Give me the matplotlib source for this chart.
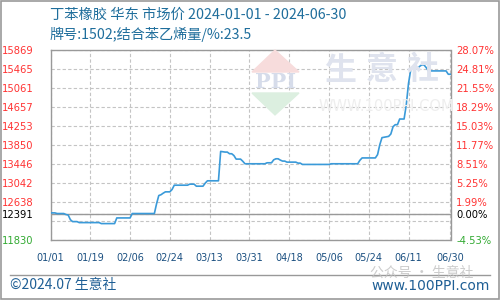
import matplotlib
matplotlib.use("Agg")
import matplotlib.pyplot as plt
import matplotlib.patches as mpatches
import pandas as pd

plt.rcParams['font.family'] = ['Noto Sans CJK SC', 'DejaVu Sans']

title1 = "丁苯橡胶 华东 市场价 2024-01-01 - 2024-06-30"
title2 = "牌号:1502;结合苯乙烯量/%:23.5"

dates = ["2024-01-01", "2024-01-03", "2024-01-04", "2024-01-07", "2024-01-08", "2024-01-09",
         "2024-01-10", "2024-01-11", "2024-01-13", "2024-01-14", "2024-01-23", "2024-01-24",
         "2024-01-30", "2024-01-31", "2024-02-06", "2024-02-07", "2024-02-17", "2024-02-18",
         "2024-02-19", "2024-02-20", "2024-02-21", "2024-02-22", "2024-02-24", "2024-02-25",
         "2024-02-26", "2024-03-03", "2024-03-04", "2024-03-06", "2024-03-07", "2024-03-10",
         "2024-03-11", "2024-03-12", "2024-03-17", "2024-03-18", "2024-03-20", "2024-03-21",
         "2024-03-22", "2024-03-23", "2024-03-24", "2024-03-25", "2024-03-27", "2024-03-28",
         "2024-03-29", "2024-04-07", "2024-04-08", "2024-04-10", "2024-04-11", "2024-04-12",
         "2024-04-13", "2024-04-14", "2024-04-15", "2024-04-16", "2024-04-17", "2024-04-21",
         "2024-04-22", "2024-04-23", "2024-04-24", "2024-05-06", "2024-05-07", "2024-05-19",
         "2024-05-20", "2024-05-21", "2024-05-27", "2024-05-28", "2024-05-29", "2024-05-30",
         "2024-06-02", "2024-06-03", "2024-06-04", "2024-06-05", "2024-06-06", "2024-06-07",
         "2024-06-09", "2024-06-10", "2024-06-11", "2024-06-12", "2024-06-13", "2024-06-15",
         "2024-06-16", "2024-06-17", "2024-06-18", "2024-06-19", "2024-06-20", "2024-06-28",
         "2024-06-29", "2024-06-30"]
prices = [12405, 12405, 12391, 12391, 12370, 12360,
          12260, 12220, 12220, 12199, 12199, 12178,
          12178, 12298, 12298, 12391, 12391, 12600,
          12773, 12790, 12823, 12851, 12851, 12900,
          12992, 12992, 13014, 13014, 12971, 12971,
          13035, 13085, 13085, 13708, 13694, 13694,
          13659, 13659, 13620, 13545, 13545, 13500,
          13446, 13446, 13467, 13467, 13530, 13552,
          13552, 13524, 13503, 13503, 13481, 13481,
          13460, 13460, 13432, 13432, 13446, 13446,
          13520, 13570, 13570, 13640, 13850, 14000,
          14027, 14077, 14232, 14275, 14275, 14395,
          14395, 14700, 15150, 15440, 15465, 15465,
          15510, 15543, 15543, 15486, 15415, 15415,
          15344, 15344]

base = 12391
ytick_vals = [11830, 12234, 12391, 12638, 13042, 13446, 13850, 14253, 14657, 15061, 15465, 15869]
xtick_dates = ["2024-01-01", "2024-01-19", "2024-02-06", "2024-02-24", "2024-03-13", "2024-03-31",
               "2024-04-18", "2024-05-06", "2024-05-24", "2024-06-11", "2024-06-30"]
xtick_labels = ["01/01", "01/19", "02/06", "02/24", "03/13", "03/31",
                "04/18", "05/06", "05/24", "06/11", "06/30"]

start = pd.Timestamp("2024-01-01")
xd = [(pd.Timestamp(d) - start).days for d in dates]
xt = [(pd.Timestamp(d) - start).days for d in xtick_dates]

fig = plt.figure(figsize=(5, 3), dpi=100)
fig.patch.set_facecolor("white")

ax = fig.add_axes([0.101, 0.2, 0.8, 0.635])
ax.set_xlim(0, 181)
ax.set_ylim(11830, 15869)

# watermark
fig.patches.append(mpatches.Polygon([[0.504, 0.76], [0.55, 0.833], [0.598, 0.76]], closed=True,
                                    transform=fig.transFigure, color="#f7dcdc", zorder=0))
fig.patches.append(mpatches.Polygon([[0.504, 0.69], [0.55, 0.617], [0.598, 0.69]], closed=True,
                                    transform=fig.transFigure, color="#dcefe0", zorder=0))
fig.text(0.551, 0.725, "PPI", ha="center", va="center", fontsize=15, fontweight="bold",
         color="#d6dcea", family=["DejaVu Serif"], zorder=0)
for i, ch in enumerate(["生", "意", "社"]):
    fig.text(0.68 + i * 0.083, 0.765, ch, ha="center", va="center", fontsize=23,
             fontweight="bold", color="#dfe3ee", zorder=0)
fig.text(0.773, 0.645, "WWW.100PPI.COM", ha="center", va="center", fontsize=10.5,
         color="#eeeeee", family=["DejaVu Sans"], zorder=0)
ax.patch.set_alpha(0)

ax.plot(xd, prices, color="#3a9ad9", lw=1.2, zorder=3)
ax.axhline(base, color="#999999", lw=1.0, zorder=2)

ax.set_yticks(ytick_vals)
lab = []
cols = []
for v in ytick_vals:
    if v == 12234:
        lab.append("")
    else:
        lab.append(str(v))
    if v < base:
        cols.append("#33aa33")
    elif v == base:
        cols.append("#000000")
    else:
        cols.append("#ff3333")
ax.set_yticklabels(lab, fontsize=7.2, family=["DejaVu Sans"])
for t, c in zip(ax.get_yticklabels(), cols):
    t.set_color(c)
ax.tick_params(axis="y", length=0, pad=12)

ax.set_xticks(xt)
ax.set_xticklabels(xtick_labels, fontsize=7, color="#1a4f80", family=["DejaVu Sans"])
ax.tick_params(axis="x", length=0, pad=9)

ax.grid(True, color="#c4c4c4", lw=0.8, linestyle=(0, (3, 2)), zorder=1)
for s in ax.spines.values():
    s.set_color("#999999")
    s.set_linewidth(1.0)

ax2 = ax.twinx()
ax2.set_ylim(ax.get_ylim())
ax2.set_yticks(ytick_vals)
plab = []
for v in ytick_vals:
    if v == 12234:
        plab.append("")
    else:
        plab.append("%.2f%%" % ((v - base) / base * 100))
ax2.set_yticklabels(plab, fontsize=7.2, family=["DejaVu Sans"])
for t, c in zip(ax2.get_yticklabels(), cols):
    t.set_color(c)
ax2.tick_params(axis="y", length=0, pad=4)
for s in ax2.spines.values():
    s.set_visible(False)

fig.text(0.1, 0.952, title1, fontsize=10.3, color="#1f6e9c", va="center", ha="left")
fig.text(0.1, 0.885, title2, fontsize=10.2, color="#1f6e9c", va="center", ha="left")

# footer
fig.add_artist(plt.Line2D([0.02, 0.98], [0.083, 0.083], transform=fig.transFigure,
                          color="#999999", lw=1.0))
fig.text(0.02, 0.05, "©2024.07 生意社", fontsize=10, color="#1f5f95", va="center", ha="left")
fig.text(0.98, 0.045, "www.100PPI.com", fontsize=10, color="#1f5f95", va="center", ha="right",
         family=["DejaVu Sans"])
fig.text(0.74, 0.09, "公众号 · 生意社", fontsize=10, color="#c0c0c0", va="center", ha="left",
         alpha=0.8)
fig.add_artist(mpatches.Rectangle((0.001, 0.002), 0.997, 0.996, transform=fig.transFigure,
                                  fill=False, edgecolor="#999999", lw=1.2))

fig.savefig("out.png", dpi=100)
